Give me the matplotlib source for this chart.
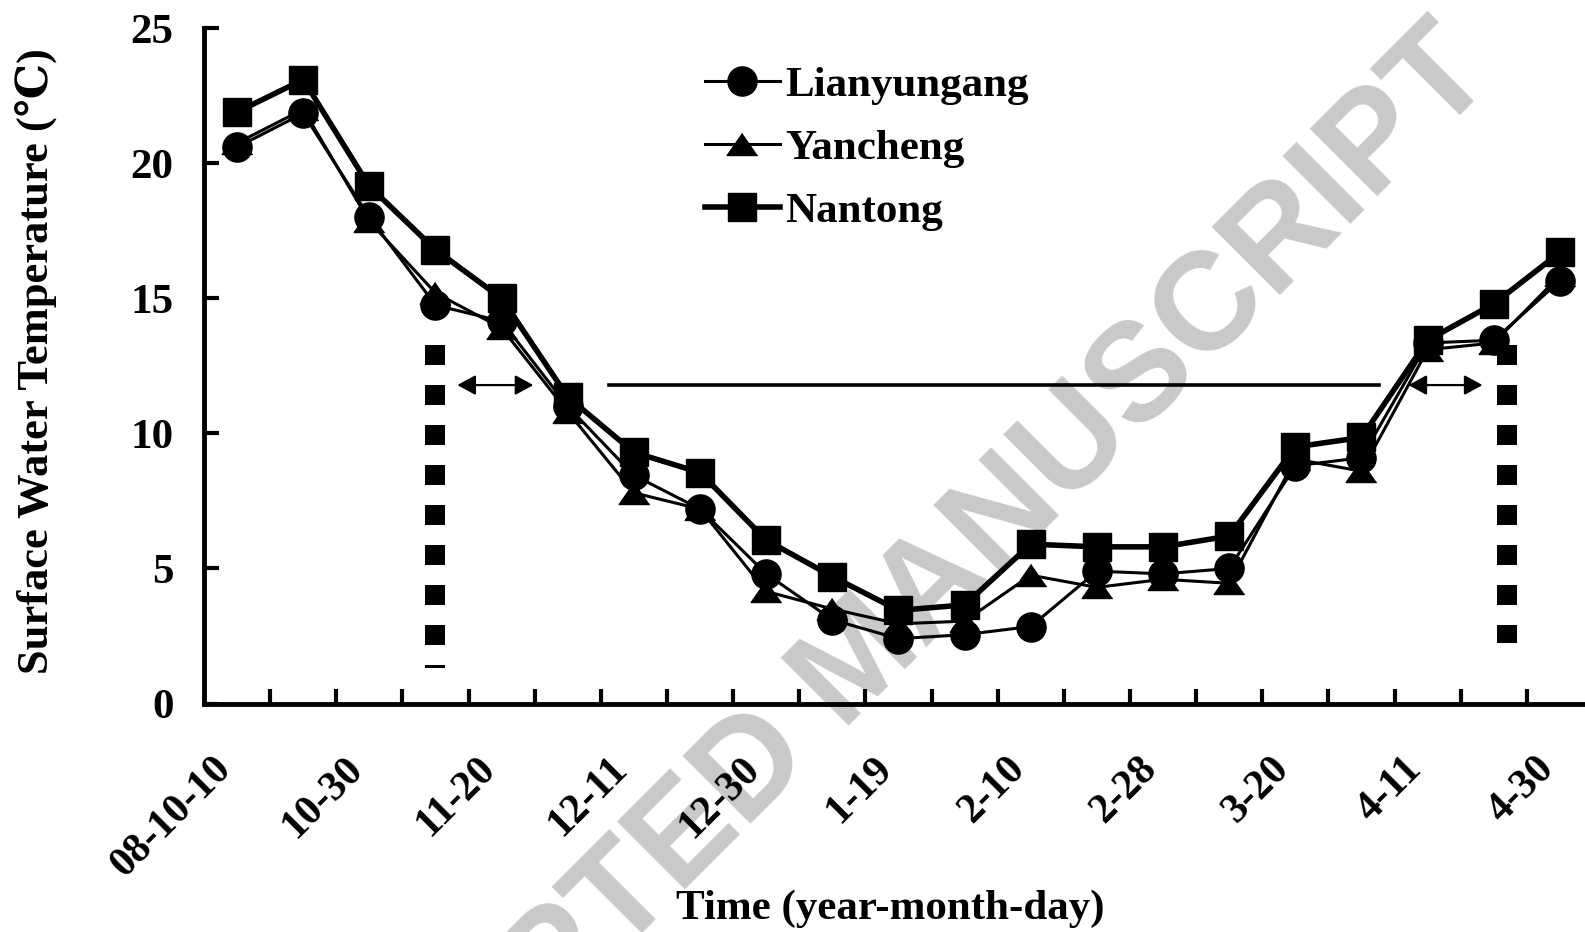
import matplotlib

matplotlib.use("Agg")
import matplotlib.pyplot as plt
import numpy as np
from matplotlib.patches import FancyArrowPatch
from matplotlib.transforms import ScaledTranslation

# Sampling dates (category axis); only every other one is labelled.
tick_labels = ["08-10-10", "10-30", "11-20", "12-11", "12-30", "1-19",
               "2-10", "2-28", "3-20", "4-11", "4-30"]
n_dates = 21

# Surface water temperature (degC).
lianyungang = [20.6, 21.85, 18.0, 14.75, 14.15, 11.0, 8.45, 7.2, 4.8, 3.1, 2.4,
               2.55, 2.85, 4.9, 4.8, 5.0, 8.8, 9.1, 13.35, 13.45, 15.65]
yancheng = [20.75, 22.0, 17.85, 15.2, 13.9, 10.8, 7.8, 7.2, 4.15, 3.5, 2.95,
            3.05, 4.75, 4.3, 4.6, 4.45, 9.05, 8.6, 13.1, 13.35, 15.85]
nantong = [21.9, 23.1, 19.15, 16.8, 15.0, 11.35, 9.3, 8.55, 6.05, 4.7, 3.45,
           3.65, 5.9, 5.8, 5.8, 6.2, 9.5, 9.85, 13.45, 14.8, 16.7]

# Annotation geometry (data units).
period_y = 11.79
period_line = (5.62, 17.26)
left_arrow = (3.33, 4.48)
right_arrow = (17.71, 18.83)
left_bar = (3.0, 13.27, 1.31)
right_bar = (19.2, 13.27, 2.24)

plt.rcParams["font.family"] = ["Liberation Serif", "DejaVu Serif", "DejaVu Sans"]
plt.rcParams["font.weight"] = "bold"
plt.rcParams["axes.labelweight"] = "bold"

W, H = 1585, 932
fig = plt.figure(figsize=(W / 100, H / 100), dpi=100)
ax = fig.add_axes([204 / W, 1 - 703.5 / H, (1593 - 204) / W, (703.5 - 28.3) / H])
ax.patch.set_visible(False)

# Watermark, behind everything.
fig.text(886 / W, 1 - 688 / H, "ACCEPTED MANUSCRIPT",
         rotation=45, rotation_mode="anchor", ha="center", va="baseline",
         fontsize=100, color="#c8c9cb", family="Liberation Sans", weight="bold",
         zorder=-5)

x = np.arange(n_dates)
tri = [(0, 0.72), (-1, -0.72), (1, -0.72)]
ax.plot(x, lianyungang, color="black", lw=2.2, marker="o", ms=21, label="Lianyungang", zorder=3)
ax.plot(x, yancheng, color="black", lw=2.2, marker=tri, ms=22, label="Yancheng", zorder=3)
ax.plot(x, nantong, color="black", lw=4, marker="s", ms=19.5, label="Nantong", zorder=4)

# Thick dotted bars marking the period ends.
for bx, top, bottom in (left_bar, right_bar):
    ax.plot([bx, bx], [top, bottom], color="black", lw=14.4,
            linestyle=(0, (1, 1)), dash_capstyle="butt", zorder=2)

ax.plot(period_line, [period_y, period_y], color="black", lw=2.6, zorder=2)
for x0, x1 in (left_arrow, right_arrow):
    ax.add_patch(FancyArrowPatch((x0, period_y), (x1, period_y),
                                 arrowstyle="<|-|>,head_length=11,head_width=6",
                                 mutation_scale=1, lw=1.6, color="black",
                                 shrinkA=0, shrinkB=0, zorder=2))

ax.set_xlim(-0.5, n_dates - 0.5)
ax.set_ylim(0, 25)
ax.set_yticks(np.arange(0, 26, 5))
ax.set_xticks(np.arange(0.5, n_dates - 0.5, 1))
ax.set_xticklabels([])
ax.set_xticks(np.arange(0, n_dates, 2), tick_labels, minor=True)

for side in ("top", "right"):
    ax.spines[side].set_visible(False)
for side in ("left", "bottom"):
    ax.spines[side].set_linewidth(3.5)

ax.tick_params(axis="both", which="major", direction="in", length=11, width=3)
ax.tick_params(axis="y", labelsize=31, pad=22)
ax.tick_params(axis="x", which="minor", length=0, labelsize=30, pad=43)
shift = ScaledTranslation(-12 / 100, 0, fig.dpi_scale_trans)
for lab in ax.get_xticklabels(minor=True):
    lab.set_rotation(45)
    lab.set_ha("right")
    lab.set_va("center")
    lab.set_rotation_mode("anchor")
    lab.set_transform(lab.get_transform() + shift)

ax.set_xlabel("Time (year-month-day)", fontsize=31, va="center")
ax.xaxis.set_label_coords(0.494, -0.304)
ax.set_ylabel("Surface Water Temperature (℃)", fontsize=32, va="center")
ax.yaxis.set_label_coords(-0.121, 0.507)

ax.legend(loc="center left", bbox_to_anchor=(704.5 / W, 1 - 148.6 / H),
          bbox_transform=fig.transFigure, frameon=False, borderpad=0,
          borderaxespad=0, handlelength=1.76, handletextpad=0.12,
          labelspacing=0.55, numpoints=1, prop=dict(size=31, weight="bold"))

fig.savefig("out.png", dpi=100)
